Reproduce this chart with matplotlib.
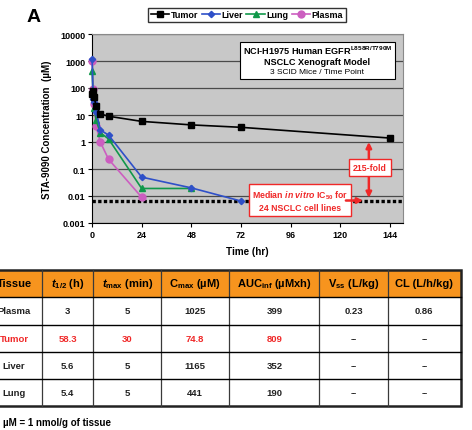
import matplotlib
matplotlib.use('Agg')
import matplotlib.pyplot as plt
from matplotlib.patches import Rectangle

plt.rcParams['font.family'] = ['Liberation Sans', 'DejaVu Sans']
plt.rcParams['mathtext.fontset'] = 'custom'
plt.rcParams['mathtext.rm'] = 'Liberation Sans:bold'
plt.rcParams['mathtext.it'] = 'Liberation Sans:italic:bold'
plt.rcParams['mathtext.bf'] = 'Liberation Sans:bold'

# concentration-time data (uM)
tumor_t = [0.083, 0.5, 1, 2, 4, 8, 24, 48, 72, 144]
tumor_c = [60, 75, 45, 22, 11, 9, 5.8, 4.3, 3.5, 1.4]
liver_t = [0.083, 0.5, 1, 2, 4, 8, 24, 48, 72]
liver_c = [1165, 40, 30, 13, 2.8, 1.8, 0.05, 0.02, 0.0065]
lung_t = [0.083, 0.5, 1, 2, 4, 8, 24, 48]
lung_c = [441, 60, 18, 6.5, 2.2, 1.3, 0.019, 0.019]
plasma_t = [0.083, 0.5, 1, 2, 4, 8, 24]
plasma_c = [1025, 90, 25, 3.8, 1.0, 0.23, 0.009]
ic50_median = 0.0068
fold_top = 1.0

yticks = [0.001, 0.01, 0.1, 1, 10, 100, 1000, 10000]
ytick_labels = ['0.001', '0.01', '0.1', '1', '10', '100', '1000', '10000']
xticks = [0, 24, 48, 72, 96, 120, 144]

# PK table
col_headers = ['Tissue', r'$\it{t}_{1/2}$ (h)', r'$\it{t}_{\mathrm{max}}$ (min)',
               r'C$_{\mathrm{max}}$ (µM)', r'AUC$_{\mathrm{inf}}$ (µMxh)',
               r'V$_{\mathrm{ss}}$ (L/kg)', 'CL (L/h/kg)']
rows = [
    ['Plasma', '3', '5', '1025', '399', '0.23', '0.86'],
    ['Tumor', '58.3', '30', '74.8', '809', '--', '--'],
    ['Liver', '5.6', '5', '1165', '352', '--', '--'],
    ['Lung', '5.4', '5', '441', '190', '--', '--'],
]
red_row = 'Tumor'

RED = '#F02828'
W, H = 472, 431
fig = plt.figure(figsize=(W / 100, H / 100), dpi=100)

# chart axes (pixel box 92..403 x 35..224)
ax = fig.add_axes([92 / W, 1 - 224 / H, 311 / W, 189 / H])
ax.set_facecolor('#C8C8C8')
ax.set_yscale('log')
ax.set_ylim(0.001, 10000)
ax.set_xlim(0, 150.3)
ax.set_yticks(yticks)
ax.set_yticklabels(ytick_labels)
ax.minorticks_off()
ax.set_xticks(xticks)
ax.tick_params(labelsize=6.5, length=3, width=0.8, pad=2)
for lab in ax.get_xticklabels() + ax.get_yticklabels():
    lab.set_fontweight('bold')
ax.grid(axis='y', color='#4a4a4a', lw=0.9)
ax.set_axisbelow(True)
for s in ['top', 'right']:
    ax.spines[s].set_color('#8a8a8a')
for s in ['left', 'bottom']:
    ax.spines[s].set_color('black')

ax.axhline(ic50_median, color='black', lw=2.4, ls=(0, (1.0, 0.7)), zorder=2)

l1, = ax.plot(tumor_t, tumor_c, color='black', marker='s', ms=5, lw=1.2, label='Tumor', clip_on=False, zorder=6)
l2, = ax.plot(liver_t, liver_c, color='#2F50C8', marker='D', ms=3.2, lw=1.2, label='Liver', clip_on=False, zorder=5)
l3, = ax.plot(lung_t, lung_c, color='#10984A', marker='^', ms=4.5, lw=1.2, label='Lung', clip_on=False, zorder=4)
l4, = ax.plot(plasma_t, plasma_c, color='#CC5EC0', marker='o', ms=5, lw=1.2, label='Plasma', clip_on=False, zorder=3)

# 215-fold arrow
ax.annotate('', xy=(133.8, fold_top), xytext=(133.8, ic50_median * 1.25),
            arrowprops=dict(arrowstyle='<|-|>', color=RED, lw=1.8, mutation_scale=8, shrinkA=0, shrinkB=0))
ax.text(134.2, 0.11, '215-fold', color=RED, fontsize=6.3, fontweight='bold', ha='center', va='center',
        bbox=dict(boxstyle='square,pad=0.45', fc='white', ec=RED, lw=1.0), zorder=8)

# IC50 note
ax.text(100.5, 0.0068, 'Median $\\it{in\\ vitro}$ IC$_{50}$ for\n24 NSCLC cell lines', color=RED,
        fontsize=6.3, fontweight='bold', ha='center', va='center', linespacing=1.35,
        bbox=dict(boxstyle='square,pad=0.35', fc='white', ec=RED, lw=1.0), zorder=8)
ax.annotate('', xy=(131, ic50_median), xytext=(122.7, ic50_median),
            arrowprops=dict(arrowstyle='-|>', color=RED, lw=1.8, mutation_scale=8, shrinkA=0, shrinkB=0), zorder=8)

# model info box
ax.add_patch(Rectangle((0.476, 0.762), 0.498, 0.196, transform=ax.transAxes,
                       fc='white', ec='black', lw=0.8, zorder=7))
ax.text(0.725, 0.915, 'NCI-H1975 Human EGFR$^{\\mathrm{L858R/T790M}}$', transform=ax.transAxes,
        fontsize=6.6, fontweight='bold', ha='center', va='center', zorder=8)
ax.text(0.725, 0.857, 'NSCLC Xenograft Model', transform=ax.transAxes,
        fontsize=6.6, fontweight='bold', ha='center', va='center', zorder=8)
ax.text(0.725, 0.804, '3 SCID Mice / Time Point', transform=ax.transAxes, fontsize=6.0,
        ha='center', va='center', zorder=8)

ax.set_xlabel('Time (hr)', fontsize=7.1, fontweight='bold', labelpad=5)
ax.set_ylabel('STA-9090 Concentration  (µM)', fontsize=7, fontweight='bold', labelpad=6)

fig.legend(handles=[l1, l2, l3, l4], loc='center', bbox_to_anchor=(247 / W, 1 - 16 / H), ncol=4,
           prop={'size': 6.5, 'weight': 'bold'}, frameon=True, fancybox=False, edgecolor='black',
           handlelength=2.0, handletextpad=0.2, columnspacing=0.4, borderpad=0.25)

# overlay in pixel coordinates for panel letter, table and footnote
ov = fig.add_axes([0, 0, 1, 1])
ov.set_xlim(0, W)
ov.set_ylim(H, 0)
ov.axis('off')
ov.patch.set_alpha(0)

ov.text(27, 18, 'A', fontsize=14, fontweight='bold', ha='left', va='center')

col_x = [-13.7, 41.7, 93.3, 161.3, 229.3, 319.3, 388, 460.7]
row_y = [270.7, 298.3, 325.7, 353, 380.3, 407.3]

ov.add_patch(Rectangle((col_x[0], row_y[0]), col_x[-1] - col_x[0], row_y[1] - row_y[0],
                       fc='#F7941E', ec='none'))
for x in col_x[1:-1]:
    ov.plot([x, x], [row_y[0], row_y[-1]], color='#3a3a3a', lw=0.9)
for y in row_y[1:-1]:
    ov.plot([col_x[0], col_x[-1]], [y, y], color='black', lw=1.0)
ov.add_patch(Rectangle((col_x[0], row_y[0]), col_x[-1] - col_x[0], row_y[-1] - row_y[0],
                       fc='none', ec='#222222', lw=1.8))

for j, h in enumerate(col_headers):
    cx = (col_x[j] + col_x[j + 1]) / 2
    ov.text(cx, (row_y[0] + row_y[1]) / 2, h, fontsize=8, fontweight='bold', ha='center', va='center')
for i, r in enumerate(rows):
    cy = (row_y[i + 1] + row_y[i + 2]) / 2
    color = RED if r[0] == red_row else '#222222'
    for j, v in enumerate(r):
        cx = (col_x[j] + col_x[j + 1]) / 2
        c = color if (r[0] != red_row or j < 5) else '#222222'
        ov.text(cx, cy, v, fontsize=6.8, fontweight='bold', color=c, ha='center', va='center')

ov.text(3, 423, 'µM = 1 nmol/g of tissue', fontsize=7, fontweight='bold', ha='left', va='center')

fig.savefig('out.png', dpi=100)
